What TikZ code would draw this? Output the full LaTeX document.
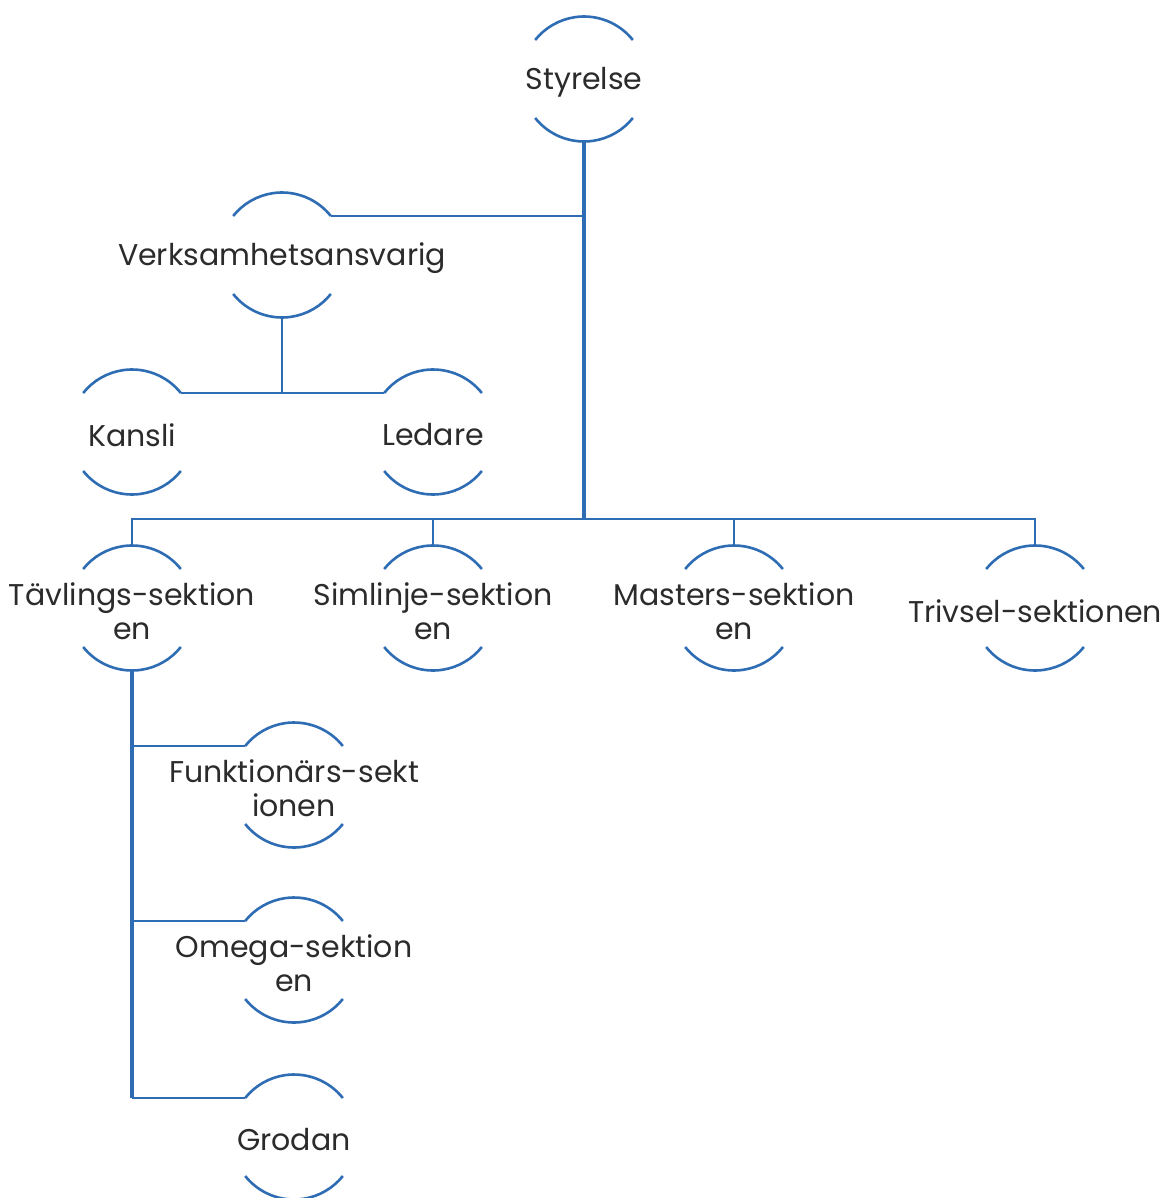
\documentclass[tikz,border=0pt]{standalone}
\usepackage{fontspec}
\setmainfont{Poppins}
\usetikzlibrary{calc}
\definecolor{orgblue}{HTML}{2E6CB3}
\definecolor{txtgray}{HTML}{2B2B2B}
\tikzset{
 lbl/.style={inner sep=0pt, align=center, text=txtgray, font=\fontsize{30}{34}\selectfont},
 arcline/.style={draw=orgblue, line width=2.6pt},
 ln/.style={draw=orgblue, line width=2.6pt},
 trunk/.style={draw=orgblue, line width=3.6pt},
}
\newcommand\orgnode[4]{%
 \node[lbl] (#1) at ($(#2,#3)+(0pt,-3pt)$) {#4};
 \coordinate (#1-tr) at ($(#2,#3)+(38.6:62.5pt)$);
 \coordinate (#1-tl) at ($(#2,#3)+(141.4:62.5pt)$);
 \coordinate (#1-t) at ($(#2,#3)+(0pt,62.5pt)$);
 \coordinate (#1-b) at ($(#2,#3)+(0pt,-62.5pt)$);
 \draw[arcline] (#1-tr) arc[start angle=38.6,end angle=141.4,radius=62.5pt];
 \draw[arcline] ($(#2,#3)+(218.6:62.5pt)$) arc[start angle=218.6,end angle=321.4,radius=62.5pt];
}
\begin{document}
\begin{tikzpicture}[x=1pt,y=1pt]
\useasboundingbox (0,0) rectangle (1161,-1198);
\orgnode{sty}{584}{-79}{Styrelse}
\orgnode{verk}{282}{-255}{Verksamhetsansvarig}
\orgnode{kan}{132}{-432}{Kansli}
\orgnode{led}{433}{-432}{Ledare}
\orgnode{tav}{132}{-608}{Tävlings-sektion\\en}
\orgnode{sim}{433}{-608}{Simlinje-sektion\\en}
\orgnode{mas}{734}{-608}{Masters-sektion\\en}
\orgnode{tri}{1035}{-608}{Trivsel-sektionen}
\orgnode{fun}{294}{-785}{Funktionärs-sekt\\ionen}
\orgnode{ome}{294}{-960}{Omega-sektion\\en}
\orgnode{gro}{294}{-1137}{Grodan}
\coordinate (bus) at (0,-519);
% Styrelse trunk
\draw[trunk] (sty-b) -- (sty-b |- bus);
\draw[ln] (verk-tr) -- (verk-tr -| sty-b);
% Verksamhetsansvarig
\draw[ln] (verk-b) -- (verk-b |- kan-tr);
\draw[ln] (kan-tr) -- (led-tl);
% bus to sections
\draw[ln] (tav-t) -- (tav-t |- bus) -- (tri-t |- bus) -- (tri-t);
\draw[ln] (sim-t) -- (sim-t |- bus);
\draw[ln] (mas-t) -- (mas-t |- bus);
% Tävlings trunk
\draw[trunk] (tav-b) -- (tav-b |- gro-tl);
\draw[ln] (fun-tl) -- (fun-tl -| tav-b);
\draw[ln] (ome-tl) -- (ome-tl -| tav-b);
\draw[ln] (gro-tl) -- (gro-tl -| tav-b);
\end{tikzpicture}
\end{document}
